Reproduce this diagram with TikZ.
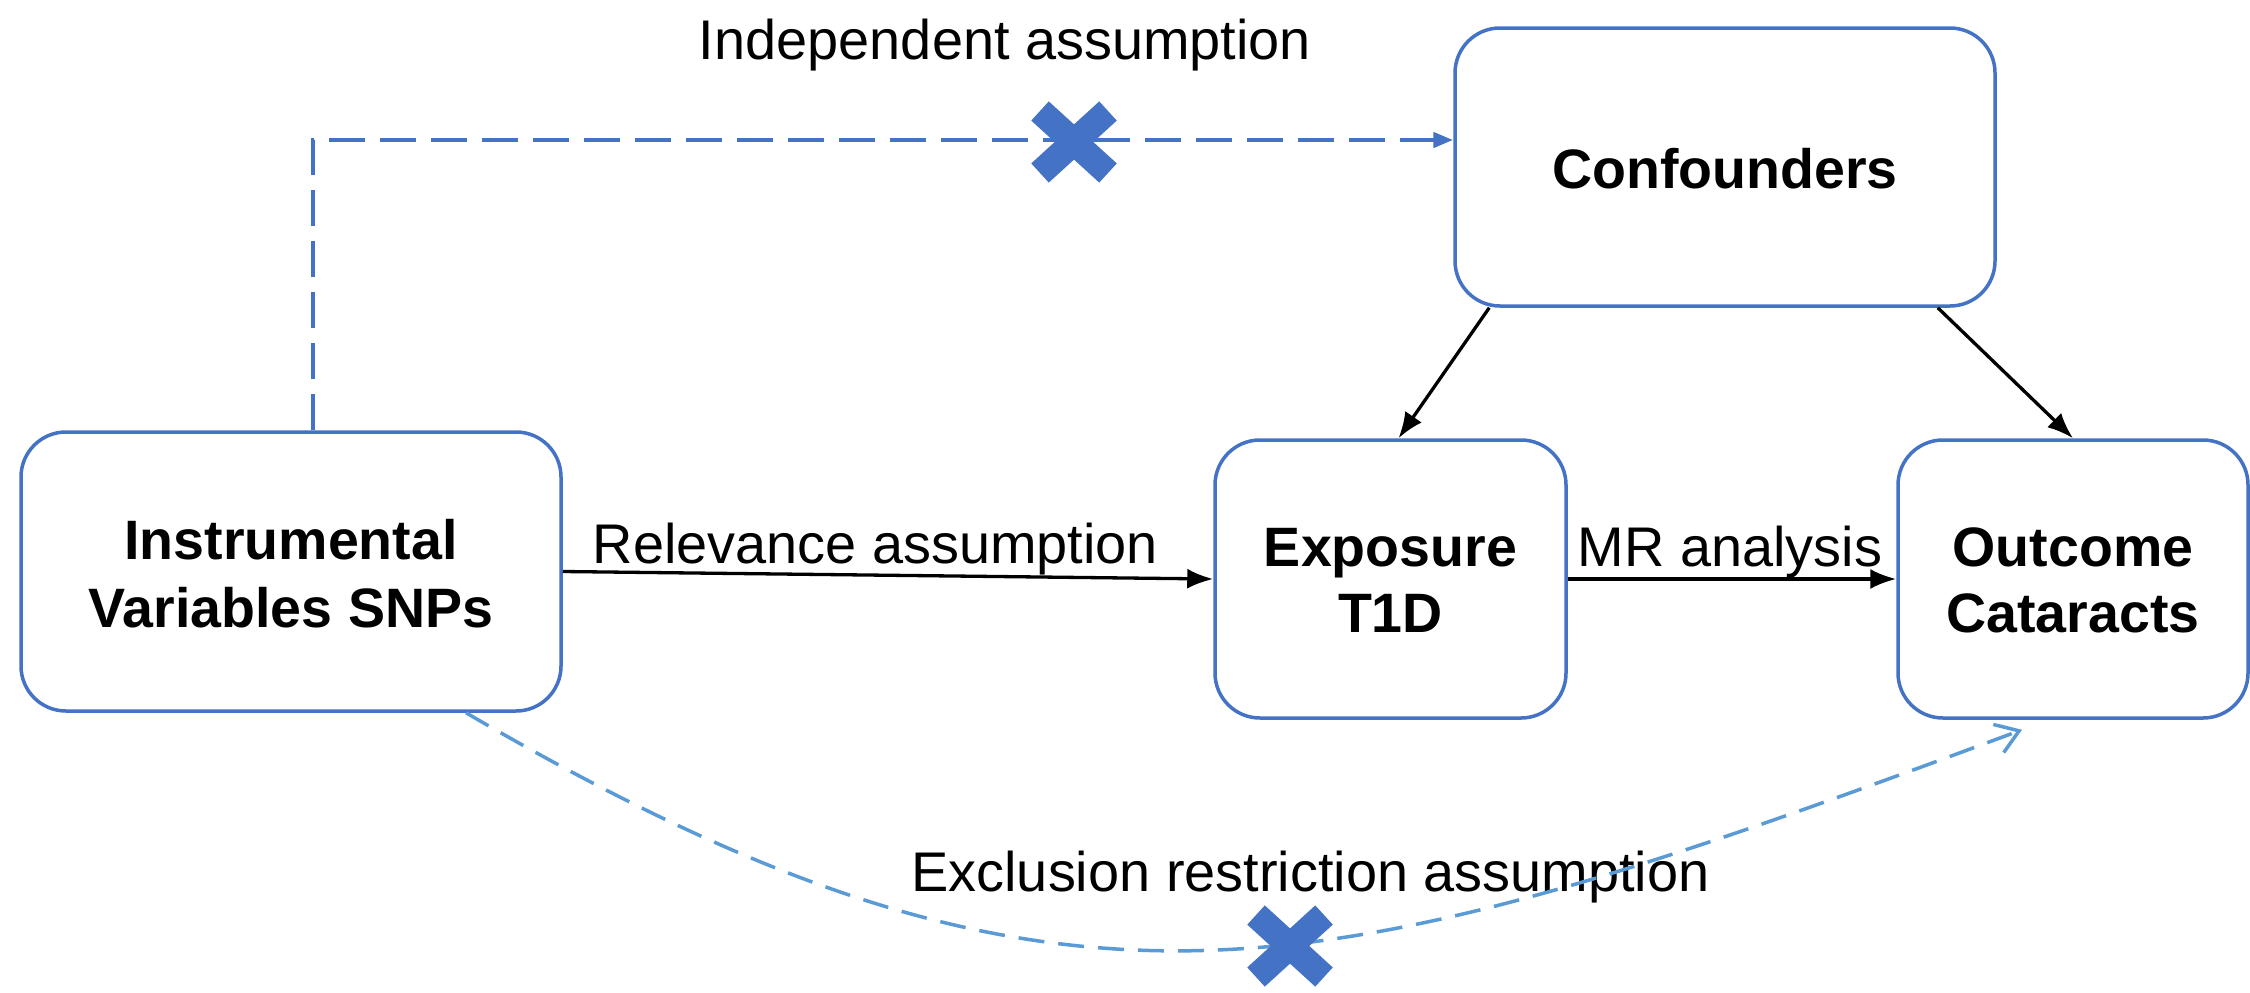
\documentclass[tikz,border=0pt]{standalone}
\usepackage{fontspec}
\setmainfont{Liberation Sans}
\usetikzlibrary{arrows.meta,calc}
\definecolor{boxblue}{HTML}{4472C4}
\definecolor{lightblue}{HTML}{5B9BD5}
\begin{document}
\begin{tikzpicture}[x=0.1mm,y=-0.1mm,
  box/.style={draw=boxblue,line width=0.35mm,rounded corners=4.5mm,inner sep=0pt},
  bt/.style={font=\fontsize{15.8}{19}\selectfont\bfseries,anchor=base,inner sep=0pt},
  nt/.style={font=\fontsize{15.9}{19}\selectfont,anchor=base,inner sep=0pt},
  blk/.style={draw=black,line width=0.33mm,-{Latex[length=2.6mm,width=2mm]}},
  topdash/.style={draw=boxblue,line width=0.45mm,dash pattern=on 3.6mm off 1.5mm,-{Triangle[length=2mm,width=1.5mm]}},
  lowdash/.style={draw=lightblue,line width=0.35mm,dash pattern=on 2.6mm off 1.4mm,-{Straight Barb[length=2.2mm,width=3mm]}},
  xmark/.style={draw=boxblue,line width=2.6mm,line cap=butt}
]
\fill[white] (0,0) rectangle (2250,992);
\useasboundingbox (0,0) rectangle (2250,992);

% boxes
\node[box,minimum width=54mm,minimum height=27.9mm] (ins) at (291,571.5) {};
\node[box,minimum width=35.1mm,minimum height=27.8mm] (exp) at (1390.5,579) {};
\node[box,minimum width=35mm,minimum height=27.8mm] (out) at (2073,579) {};
\node[box,minimum width=54mm,minimum height=27.8mm] (conf) at (1725,167) {};

% box texts
\node[bt] (t1) at ($(ins.center)+(0,-12.5)$) {Instrumental};
\node[bt] (t2) at ($(ins.center)+(0,55.5)$) {Variables SNPs};
\node[bt] (t3) at ($(exp.center)+(0,-13)$) {Exposure};
\node[bt] (t4) at ($(exp.center)+(0,53)$) {T1D};
\node[bt] (t5) at ($(out.center)+(0,-13)$) {Outcome};
\node[bt] (t6) at ($(out.center)+(0,53)$) {Cataracts};
\node[bt] (t7) at ($(conf.center)+(0,21)$) {Confounders};

% labels
\node[nt] (la) at (1005,60) {Independent assumption};
\node[nt] (lb) at (875.5,563) {Relevance assumption};
\node[nt] (lc) at (1730,566) {MR analysis};
\node[nt] (ld) at (1310.5,891) {Exclusion restriction assumption};

% solid connectors
\draw[blk] (ins.east) -- (exp.west);
\draw[blk] (exp.east) -- (out.west);
\draw[blk] ($(conf.south west)+(36,0)$) -- ($(exp.north)+(8,0)$);
\draw[blk] ($(conf.south east)+(-59,0)$) -- (out.north);

% independence (dashed, crossed)
\draw[topdash] ($(ins.north)+(22,0)$) |- ($(conf.west)+(0,-27)$);
\coordinate (xa) at (1074,142);
\draw[xmark] ($(xa)+(-34,-31)$) -- ($(xa)+(34,31)$) ($(xa)+(-34,31)$) -- ($(xa)+(34,-31)$);

% exclusion restriction (dashed curve, crossed)
\coordinate (ls) at ($(ins.south)+(175,0)$);
\coordinate (le) at ($(out.south)+(-51,10)$);
\draw[lowdash] (ls) .. controls (1066,1063) and (1322,990) .. (le);
\coordinate (xb) at (1290,946);
\draw[xmark] ($(xb)+(-34,-31)$) -- ($(xb)+(34,31)$) ($(xb)+(-34,31)$) -- ($(xb)+(34,-31)$);
\end{tikzpicture}
\end{document}
